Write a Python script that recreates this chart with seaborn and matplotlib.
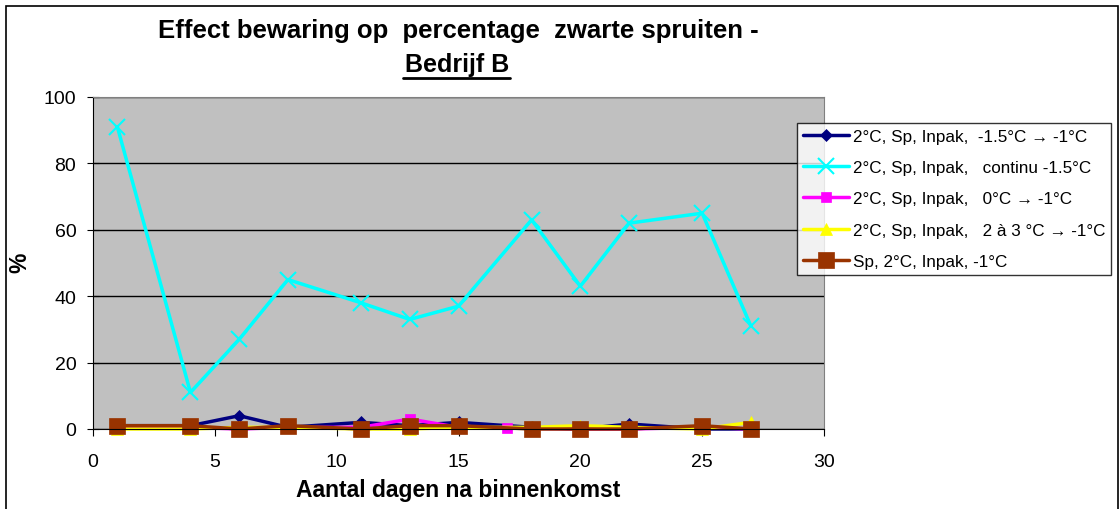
import matplotlib

matplotlib.use("Agg")
import matplotlib.pyplot as plt
import pandas as pd
import seaborn as sns

# days after arrival
DAYS = [1, 4, 6, 8, 11, 13, 15, 18, 20, 22, 25, 27]
DAYS_PINK = [1, 4, 6, 8, 11, 13, 15, 17, 20, 22, 25, 27]

NAVY = [1, 1, 4, 0.5, 2, 1, 2, 0.5, 0, 1.5, 0, 0]
CYAN = [91, 11, 27, 45, 38, 33, 37, 63, 43, 62, 65, 31]
PINK = [0.5, 0.5, 0, 0.5, 0.5, 3, 0.5, 0.3, 0, 0, 0.5, 0]
YELLOW = [0, 0, 0.5, 0.5, 0, 0, 0.5, 0.5, 1, 0.5, 0, 2]
BROWN = [1, 1, 0, 1, 0, 1, 1, 0, 0, 0, 1, 0]

LABELS = [
    "2°C, Sp, Inpak,  -1.5°C → -1°C",
    "2°C, Sp, Inpak,   continu -1.5°C",
    "2°C, Sp, Inpak,   0°C → -1°C",
    "2°C, Sp, Inpak,   2 à 3 °C → -1°C",
    "Sp, 2°C, Inpak, -1°C",
]

sns.set_style("white")
plt.rcParams["font.family"] = ["Liberation Sans", "DejaVu Sans"]
plt.rcParams.update({"text.color": "black", "axes.labelcolor": "black",
                     "xtick.color": "black", "ytick.color": "black"})

W, H = 1120, 510
fig = plt.figure(figsize=(11.2, 5.1), dpi=100)
ax = fig.add_axes([93 / W, 80 / H, 731 / W, 332 / H])
ax.set_facecolor("#C0C0C0")

series = [
    (DAYS, NAVY, "#000080", "D", 6),
    (DAYS, CYAN, "#00FFFF", "x", 12),
    (DAYS_PINK, PINK, "#FF00FF", "s", 7),
    (DAYS, YELLOW, "#FFFF00", "^", 8),
    (DAYS, BROWN, "#993300", "s", 12),
]
for (xs, ys, color, marker, ms), label in zip(series, LABELS):
    df = pd.DataFrame({"dag": xs, "pct": ys})
    sns.lineplot(data=df, x="dag", y="pct", ax=ax, color=color, lw=2.5,
                 marker=marker, markersize=ms, markeredgecolor=color,
                 markeredgewidth=1.5 if marker == "x" else 0.5,
                 label=label, clip_on=False)

ax.set_xlim(0, 30)
ax.set_ylim(0, 100)
ax.set_xticks(range(0, 31, 5))
ax.set_yticks(range(0, 101, 20))
ax.yaxis.grid(True, color="black", lw=1)
ax.tick_params(axis="x", labelsize=14, direction="out", length=5, pad=12,
               bottom=True)
ax.tick_params(axis="y", labelsize=14, direction="inout", length=8, pad=8,
               left=True)
for side in ["top", "right"]:
    ax.spines[side].set_color("#808080")
for side in ["left", "bottom"]:
    ax.spines[side].set_color("black")

ax.set_xlabel("Aantal dagen na binnenkomst", fontsize=16.5, fontweight="bold", labelpad=6)
ax.set_ylabel("%", fontsize=16.5, fontweight="bold")
ax.yaxis.set_label_coords((31 - 93) / 731, (430 - 263) / 332)

fig.text(458 / W, 1 - 31 / H, "Effect bewaring op  percentage  zwarte spruiten -",
         ha="center", va="center", fontsize=18.5, fontweight="bold")
fig.text(457 / W, 1 - 65 / H, "Bedrijf B", ha="center", va="center",
         fontsize=18, fontweight="bold")
fig.add_artist(plt.Line2D([403 / W, 510 / W], [1 - 79 / H, 1 - 79 / H],
                          color="black", lw=2))

leg = ax.legend(loc="upper left", bbox_to_anchor=(797 / W, 1 - 124 / H),
                bbox_transform=fig.transFigure, fontsize=12.3, frameon=True,
                fancybox=False, edgecolor="black", borderaxespad=0,
                handlelength=2.7, labelspacing=0.95, borderpad=0.35,
                handletextpad=0.2)
leg.get_frame().set_linewidth(1)

# outer chart frame, inset like the original
fig.add_artist(plt.Rectangle((6 / W, -0.01), 1112 / W, 1.01 - 7 / H,
                             transform=fig.transFigure, fill=False,
                             edgecolor="black", lw=1.2))

fig.savefig("out.png", dpi=100)
